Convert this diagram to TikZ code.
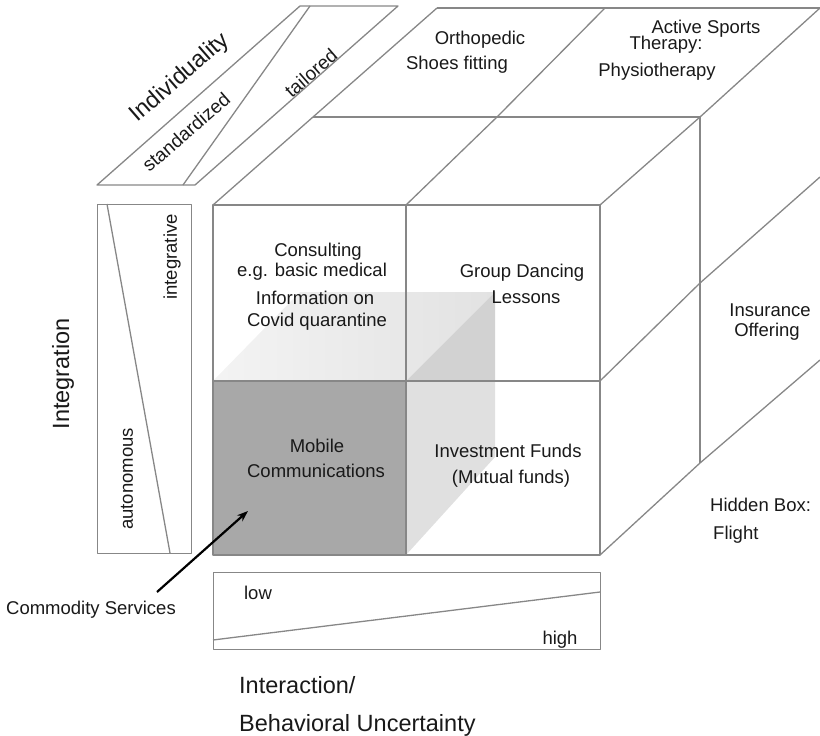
\documentclass[tikz,border=0pt]{standalone}
\usepackage{fontspec}
\setmainfont{Liberation Sans}
\usetikzlibrary{arrows.meta}
\definecolor{edgegray}{RGB}{135,135,135}
\definecolor{darkcell}{RGB}{168,168,168}
\definecolor{sideup}{RGB}{210,210,210}
\definecolor{sidelow}{RGB}{224,224,224}
\definecolor{topface}{RGB}{226,226,226}
\definecolor{ink}{RGB}{25,25,25}
\begin{document}
\begin{tikzpicture}[x=1pt,y=-1pt,
  edge/.style={draw=edgegray,line width=1.3pt,line join=round},
  body/.style={font=\fontsize{18.5}{21}\selectfont,text=ink,inner sep=0pt},
  big/.style={font=\fontsize{23.5}{26}\selectfont,text=ink,inner sep=0pt},
  axis/.style={font=\fontsize{19}{21}\selectfont,text=ink,inner sep=0pt},
  pointer/.style={draw=black,line width=2.2pt,-{Stealth[length=11pt,width=8pt]}}]
\path[use as bounding box] (0,0) rectangle (820,736);

% ---------- corner points of the cube ----------
% front face
\coordinate (f00) at (213,205); \coordinate (f10) at (406,205); \coordinate (f20) at (600,205);
\coordinate (f01) at (213,381); \coordinate (f11) at (406,381); \coordinate (f21) at (600,381);
\coordinate (f02) at (213,555); \coordinate (f12) at (406,555); \coordinate (f22) at (600,555);
% middle depth layer
\coordinate (m00) at (313,117); \coordinate (m10) at (497,117); \coordinate (m20) at (700,117);
\coordinate (m21) at (700,283); \coordinate (m22) at (700,463);
% back layer
\coordinate (b00) at (437,8); \coordinate (b10) at (605,8); \coordinate (b20) at (820,8);
\coordinate (b21) at (820,177); \coordinate (b22) at (820,360);

% ---------- shaded inner cube (commodity services) ----------
\shade[left color=white!60!topface,right color=topface]
  (f01) -- (f11) -- (495,292) -- (300,292) -- cycle;
\fill[sideup] (f11) -- (495,292) -- (495,381) -- cycle;
\fill[sidelow] (f11) -- (495,381) -- (495,457) -- (f12) -- cycle;
\fill[darkcell] (f01) rectangle (f12);

% ---------- cube edges ----------
\draw[edge] (f00) rectangle (f22);
\draw[edge] (f10) -- (f12);
\draw[edge] (f01) -- (f21);
% top face
\draw[edge] (f00) -- (m00) -- (b00);
\draw[edge] (f10) -- (m10) -- (b10);
\draw[edge] (f20) -- (m20) -- (b20);
\draw[edge] (m00) -- (m20);
\draw[edge] (b00) -- (b20);
% right face
\draw[edge] (m20) -- (m22);
\draw[edge] (f21) -- (m21) -- (b21);
\draw[edge] (f22) -- (m22) -- (b22);

% ---------- individuality scale ----------
\coordinate (i1) at (97,185); \coordinate (i2) at (195,185);
\coordinate (i3) at (398,6);  \coordinate (i4) at (300,6);
\draw[edge] (i1) -- (i2) -- (i3) -- (i4) -- cycle;
\coordinate (id1) at (183,185); \coordinate (id2) at (310,6);
\draw[edge] (id1) -- (id2);

% ---------- integration scale ----------
\node[edge,rectangle,minimum width=94pt,minimum height=349pt,inner sep=0pt,anchor=north west] (intbar) at (97,204) {};
\coordinate (ig1) at (107,204); \coordinate (ig2) at (170,553);
\draw[edge] (ig1) -- (ig2);

% ---------- interaction scale ----------
\node[edge,rectangle,minimum width=387pt,minimum height=77pt,inner sep=0pt,anchor=north west] (iabar) at (213,572) {};
\coordinate (ia1) at (213,640); \coordinate (ia2) at (600,592);
\draw[edge] (ia1) -- (ia2);

% ---------- labels inside the cube ----------
\node[body,anchor=base] (consA) at (318,256) {Consulting};
\node[body,anchor=base] (consB) at (312,276) {e.g. basic medical};
\node[body,anchor=base] (consC) at (315,304) {Information on};
\node[body,anchor=base] (consD) at (317,326) {Covid quarantine};
\node[body,anchor=base] (danceA) at (522,277) {Group Dancing};
\node[body,anchor=base] (danceB) at (526,303) {Lessons};
\node[body,anchor=base] (mobA) at (317,452) {Mobile};
\node[body,anchor=base] (mobB) at (316,477) {Communications};
\node[body,anchor=base] (fundA) at (508,457) {Investment Funds};
\node[body,anchor=base] (fundB) at (511,483) {(Mutual funds)};
\node[body,anchor=base] (orthoA) at (480,44) {Orthopedic};
\node[body,anchor=base] (orthoB) at (457,69) {Shoes fitting};
\node[body,anchor=base] (sportA) at (706,34) {Active Sports};
\node[body,anchor=base] (sportB) at (666,49) {Therapy:};
\node[body,anchor=base] (sportC) at (657,76) {Physiotherapy};
\node[body,anchor=base] (insA) at (770,316) {Insurance};
\node[body,anchor=base] (insB) at (767,336) {Offering};
\node[body,anchor=base west] (hidA) at (710,511) {Hidden Box:};
\node[body,anchor=base west] (hidB) at (713,539) {Flight};

% ---------- axis labels ----------
\node[big,rotate=41] (indiv) at (180,78) {Individuality};
\node[axis,rotate=41] (stand) at (186,132) {standardized};
\node[axis,rotate=41] (tail) at (311,73) {tailored};
\node[big,rotate=90] (integ) at (63,374) {Integration};
\node[body,rotate=90] (integr) at (172,257) {integrative};
\node[body,rotate=90] (auton) at (127,479) {autonomous};
\node[body,anchor=base] (low) at (258,599) {low};
\node[body,anchor=base] (high) at (560,644) {high};
\node[big,anchor=base west] (interA) at (239,693) {Interaction/};
\node[big,anchor=base west] (interB) at (239,731) {Behavioral Uncertainty};

% ---------- commodity services pointer ----------
\node[body,anchor=base] (commod) at (91,614) {Commodity Services};
\coordinate (ptail) at (157,592);
\coordinate (phead) at (248,511);
\draw[pointer] (ptail) -- (phead);
\end{tikzpicture}
\end{document}
